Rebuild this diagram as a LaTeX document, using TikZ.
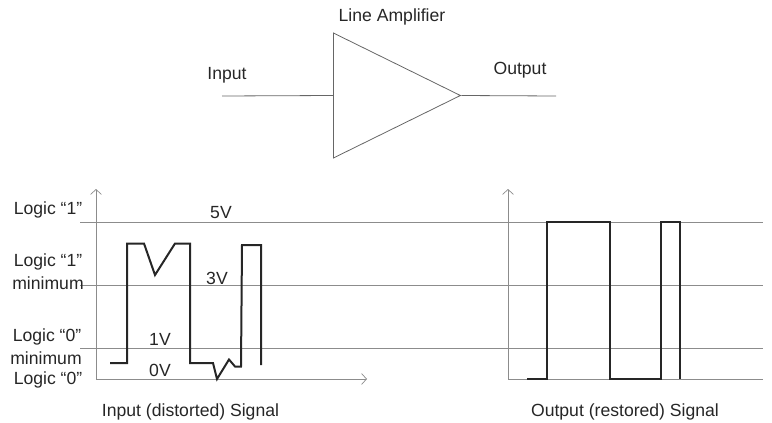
\documentclass[tikz,border=0pt]{standalone}
\usepackage{fontspec}
\setmainfont{Liberation Sans}
\usetikzlibrary{shapes.geometric,arrows.meta}

\begin{document}
\begin{tikzpicture}[
  x=1pt, y=-1pt,
  level/.style={draw=black!45, line width=0.8pt},
  axis/.style={draw=black!45, line width=0.7pt, -{Straight Barb[length=5pt,width=11pt]}},
  wire/.style={draw=black!60, line width=0.8pt},
  signal/.style={draw=black!85, line width=2pt, line join=miter},
  label/.style={inner sep=0pt, text=black!85, font=\fontsize{17.6}{20}\selectfont},
  amplifier/.style={isosceles triangle, isosceles triangle stretches, draw=black!60,
    line width=0.8pt, shape border rotate=0, inner sep=0pt,
    minimum width=125pt, minimum height=127pt}
  ]
  \useasboundingbox (0,0) rectangle (772,423);

  % amplifier
  \node[amplifier, anchor=lower side] (amp) at (333,95.5) {};
  \coordinate (in) at (222,96);
  \coordinate (out) at (556,96);
  \draw[wire] (in) -- (amp.lower side);
  \draw[wire] (amp.apex) -- (out);
  \node[label] (ampname) at (392,17) {Line Amplifier};
  \node[label] (inname) at (227,75) {Input};
  \node[label] (outname) at (520,70) {Output};

  % axes
  \coordinate (lorigin) at (96,379);
  \coordinate (ltop) at (96,189);
  \coordinate (lright) at (367,379);
  \coordinate (rorigin) at (508,379);
  \coordinate (rtop) at (508,189);
  \coordinate (rright) at (763,379);
  \draw[axis] (lorigin) -- (ltop);
  \draw[axis] (lorigin) -- (lright);
  \draw[axis] (rorigin) -- (rtop);
  \draw[level] (rorigin) -- (rright);

  % levels
  \foreach \name/\y in {high/222, mid/285, low/348} {
    \coordinate (\name L) at (80,\y);
    \coordinate (\name R) at (763,\y);
    \draw[level] (\name L) -- (\name R);
  }

  % signals
  \draw[signal] (110,363) -- (127,363) -- (127,243.5) -- (144,243.5) -- (155,275)
    -- (175,243.5) -- (190,243.5) -- (190,363) -- (213,363) -- (217,379) -- (229,359.5)
    -- (235,366.5) -- (241,366.5) -- (242,245) -- (261,245) -- (261,365);
  \draw[signal] (527,379) -- (547,379) -- (547,222) -- (610,222) -- (610,379)
    -- (661,379) -- (661,222) -- (680,222) -- (680,379);

  % labels
  \node[label] (one) at (48,210) {Logic “1”};
  \node[label] (onemin) at (48,262) {Logic “1”};
  \node[label] (oneminb) at (48,283) {minimum};
  \node[label] (zeromin) at (47,337) {Logic “0”};
  \node[label] (zerominb) at (46,358) {minimum};
  \node[label] (zero) at (48,380) {Logic “0”};
  \node[label] (fivev) at (221,213) {5V};
  \node[label] (threev) at (217,278) {3V};
  \node[label] (onev) at (160,339) {1V};
  \node[label] (zerov) at (160,370) {0V};
  \node[label] (insig) at (190.5,412) {Input (distorted) Signal};
  \node[label] (outsig) at (625,412) {Output (restored) Signal};
\end{tikzpicture}
\end{document}
